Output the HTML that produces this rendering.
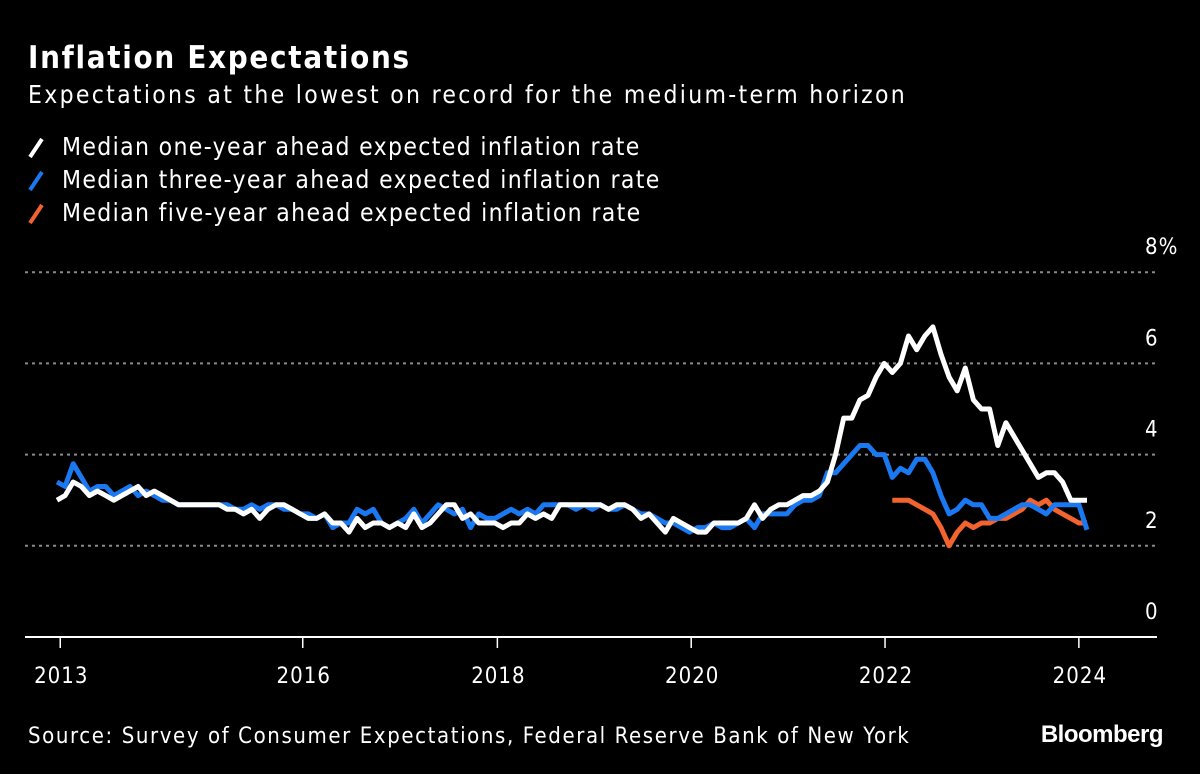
<!DOCTYPE html>
<html><head><meta charset="utf-8"><style>
body{margin:0;background:#000;width:1200px;height:774px;overflow:hidden;font-family:"DejaVu Sans Condensed","Liberation Sans",sans-serif;color:#fff}
svg{position:absolute;left:0;top:0}
</style></head><body>
<svg width="1200" height="774">
<text x="28" y="68" font-size="31" font-weight="bold" fill="#fff" letter-spacing="1.7" font-family="DejaVu Sans Condensed, sans-serif">Inflation Expectations</text>
<text x="28" y="103" font-size="24.5" fill="#fff" letter-spacing="2.3" font-family="DejaVu Sans Condensed, sans-serif">Expectations at the lowest on record for the medium-term horizon</text>
<g font-family="DejaVu Sans Condensed, sans-serif" font-size="24.5" fill="#fff" letter-spacing="1.35">
<g><line x1="30" y1="157" x2="42" y2="139" stroke="#fff" stroke-width="4"/><text x="62" y="155">Median one-year ahead expected inflation rate</text></g>
<g><line x1="30" y1="190" x2="42" y2="172" stroke="#1a78f0" stroke-width="4"/><text x="62" y="188">Median three-year ahead expected inflation rate</text></g>
<g><line x1="30" y1="223" x2="42" y2="205" stroke="#f2632e" stroke-width="4"/><text x="62" y="221">Median five-year ahead expected inflation rate</text></g>
</g>
<g id="grid"></g><g id="axes"></g><g id="series"></g>
<text x="28" y="743" font-size="22" fill="#fff" letter-spacing="1.6" font-family="DejaVu Sans Condensed, sans-serif">Source: Survey of Consumer Expectations, Federal Reserve Bank of New York</text>
<text x="1163" y="742" font-size="24" font-weight="bold" text-anchor="end" fill="#fff" font-family="Liberation Sans, sans-serif" letter-spacing="-0.5">Bloomberg</text>
</svg>
<script>
const yTicks=[0,2,4,6,8];
const yTickLabels=["0","2","4","6","8%"];
const xTickIdx=[0.4,30.3,54.3,78.2,102.1,126];
const xTickLabels=["2013","2016","2018","2020","2022","2024"];
const oneYear=[3.0,3.1,3.4,3.3,3.1,3.2,3.1,
3.0,3.1,3.2,3.3,3.1,3.2,3.1,3.0,2.9,2.9,2.9,2.9,
2.9,2.9,2.8,2.8,2.7,2.8,2.6,2.8,2.9,2.9,2.8,2.7,
2.6,2.6,2.7,2.5,2.5,2.3,2.6,2.4,2.5,2.5,2.4,2.5,
2.4,2.7,2.4,2.5,2.7,2.9,2.9,2.6,2.7,2.5,2.5,2.5,
2.4,2.5,2.5,2.7,2.6,2.7,2.6,2.9,2.9,2.9,2.9,2.9,
2.9,2.8,2.9,2.9,2.8,2.6,2.7,2.5,2.3,2.6,2.5,2.4,
2.3,2.3,2.5,2.5,2.5,2.5,2.6,2.9,2.6,2.8,2.9,2.9,
3.0,3.1,3.1,3.2,3.4,4.0,4.8,4.8,5.2,5.3,5.7,6.0,
5.8,6.0,6.6,6.3,6.6,6.8,6.2,5.7,5.4,5.9,5.2,5.0,
5.0,4.2,4.7,4.4,4.1,3.8,3.5,3.6,3.6,3.4,3.0,3.0,
3.0];
const threeYear=[3.4,3.3,3.8,3.5,3.2,3.3,3.3,
3.1,3.2,3.3,3.1,3.2,3.1,3.0,3.0,2.9,2.9,2.9,2.9,
2.9,2.9,2.9,2.8,2.8,2.9,2.8,2.9,2.9,2.8,2.8,2.7,
2.7,2.6,2.7,2.4,2.5,2.5,2.8,2.7,2.8,2.5,2.4,2.5,
2.6,2.8,2.5,2.7,2.9,2.8,2.7,2.8,2.4,2.7,2.6,2.6,
2.7,2.8,2.7,2.8,2.7,2.9,2.9,2.9,2.9,2.8,2.9,2.8,
2.9,2.8,2.8,2.9,2.8,2.7,2.7,2.6,2.5,2.5,2.4,2.3,
2.4,2.4,2.5,2.4,2.4,2.5,2.6,2.4,2.7,2.7,2.7,2.7,
2.9,3.0,3.0,3.1,3.6,3.6,3.8,4.0,4.2,4.2,4.0,4.0,
3.5,3.7,3.6,3.9,3.9,3.6,3.1,2.7,2.8,3.0,2.9,2.9,
2.6,2.6,2.7,2.8,2.9,2.9,2.8,2.7,2.9,2.9,2.9,2.9,
2.35];
const fiveYearStart=103;
const fiveYear=[3.0,3.0,3.0,2.9,2.8,2.7,2.4,2.0,2.3,2.5,2.4,2.5,2.5,2.6,2.6,2.7,2.8,3.0,2.9,3.0,2.8,2.7,2.6,2.5,2.5];

const NS="http://www.w3.org/2000/svg";
const xS=i=>57+i*8.11;
const yS=v=>637-v*45.6;
function mk(tag,attrs,parent){const e=document.createElementNS(NS,tag);for(const k in attrs)e.setAttribute(k,attrs[k]);parent.appendChild(e);return e;}
const grid=document.getElementById('grid'),axes=document.getElementById('axes'),series=document.getElementById('series');
yTicks.forEach((v,i)=>{
  if(v>0){const g=mk('line',{x1:25,x2:1157,y1:yS(v),y2:yS(v),stroke:'#8a8a8a','stroke-width':2,'stroke-dasharray':'3 4'},grid);
  
  }
  const t=mk('text',{x:1145,y:yS(v)-18,'font-size':22,fill:'#fff','letter-spacing':1,'font-family':'DejaVu Sans Condensed, sans-serif'},axes);
  t.textContent=yTickLabels[i];
  
  
});
const ax=mk('line',{x1:25,x2:1157,y1:637,y2:637,stroke:'#fff','stroke-width':2},axes);


xTickIdx.forEach((d,i)=>{
  const x=xS(d);
  const tk=mk('line',{x1:x,x2:x,y1:638,y2:648,stroke:'#fff','stroke-width':1.5},axes);
  
  
  const t=mk('text',{x:x+1,y:683,'text-anchor':'middle','font-size':22,fill:'#fff','letter-spacing':1,'font-family':'DejaVu Sans Condensed, sans-serif'},axes);
  t.textContent=xTickLabels[i];
  
  
});
function line(arr,start,color,name){
  const d=arr.map((v,i)=>(i?'L':'M')+xS(start+i).toFixed(1)+' '+yS(v).toFixed(1)).join(' ');
  const p=mk('path',{d:d,fill:'none',stroke:color,'stroke-width':5,'stroke-linejoin':'round'},series);
  
  
}
line(fiveYear,fiveYearStart,'#f2632e','five-year-line');
line(threeYear,0,'#1a78f0','three-year-line');
line(oneYear,0,'#ffffff','one-year-line');
</script>
</body></html>
